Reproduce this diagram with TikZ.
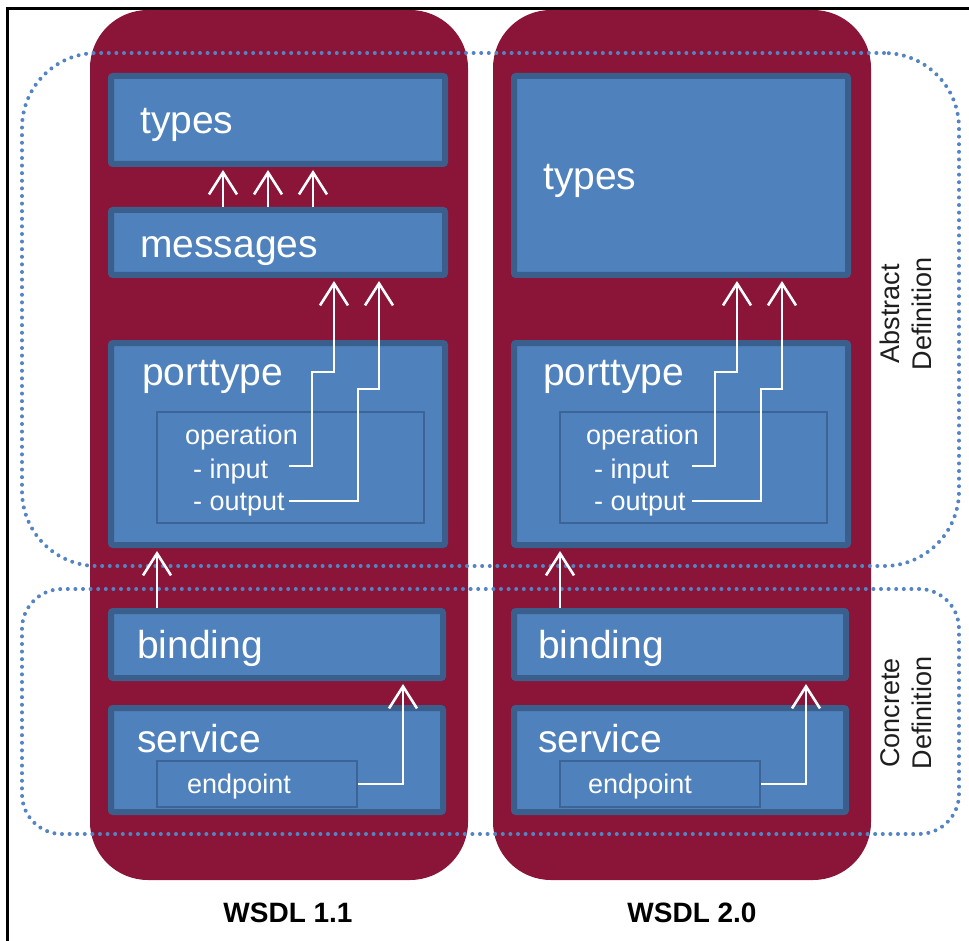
\documentclass[tikz,border=0pt]{standalone}
\usepackage{fontspec}
\setmainfont{Liberation Sans}
\usetikzlibrary{arrows.meta}
\definecolor{colmaroon}{RGB}{138,21,56}
\definecolor{bfill}{RGB}{79,129,189}
\definecolor{bborder}{RGB}{58,95,140}
\definecolor{opborder}{RGB}{60,100,150}
\definecolor{dotc}{RGB}{84,132,196}
\definecolor{sidetext}{RGB}{30,30,30}
\tikzset{
  colbox/.style={fill=colmaroon, draw=none, rounded corners=58pt, inner sep=0pt},
  region/.style={draw=dotc, line width=4pt, line cap=round, dash pattern=on 0pt off 7.6pt, inner sep=0pt},
  bbox/.style={fill=bfill, draw=bborder, line width=6pt, rounded corners=2pt, inner sep=0pt},
  inbox/.style={fill=bfill, draw=opborder, line width=1.5pt, inner sep=0pt},
  bigtxt/.style={text=white, inner sep=0pt, anchor=base west, font=\fontsize{39}{44}\selectfont},
  smalltxt/.style={text=white, inner sep=0pt, anchor=base west, font=\fontsize{27}{30}\selectfont},
  sidetxt/.style={text=sidetext, inner sep=0pt, rotate=90, align=center, font=\fontsize{27}{32}\selectfont},
  captxt/.style={text=black, inner sep=0pt, anchor=base, font=\bfseries\fontsize{28}{32}\selectfont},
  arr/.style={draw=white, line width=2.6pt, -{Straight Barb[length=22pt, width=28pt, line width=2.6pt]}, shorten >=3pt},
  frame/.style={draw=black, line width=3pt}
}
\begin{document}
\begin{tikzpicture}[x=1pt, y=-1pt]
\useasboundingbox (0,0) rectangle (969,941);
% frame (left and top)
\coordinate (fa) at (7.5,941);
\coordinate (fb) at (7.5,8.5);
\coordinate (fc) at (969,8.5);
\draw[frame] (fa) -- (fb) -- (fc);
% columns
\node[colbox, minimum width=378pt, minimum height=870pt] (colL) at (279,445) {};
\node[colbox, minimum width=378pt, minimum height=870pt] (colR) at (682,445) {};
% dotted regions
\node[region, rounded corners=75pt, minimum width=937pt, minimum height=513pt] (abstract) at (490.5,309.5) {};
\node[region, rounded corners=40pt, minimum width=937pt, minimum height=245pt] (concrete) at (490.5,711.5) {};
% left boxes
\node[bbox, minimum width=334pt, minimum height=88pt] (typesL) at (278,120) {};
\node[bbox, minimum width=334pt, minimum height=65pt] (msgL) at (278,242.5) {};
\node[bbox, minimum width=334pt, minimum height=202pt] (portL) at (278,444) {};
\node[inbox, minimum width=267pt, minimum height=111pt] (opL) at (290.5,467.5) {};
\node[bbox, minimum width=332pt, minimum height=67pt] (bindL) at (277,644.5) {};
\node[bbox, minimum width=332pt, minimum height=104pt] (servL) at (277,760) {};
\node[inbox, minimum width=200pt, minimum height=46pt] (endL) at (257,784) {};
% right boxes
\node[bbox, minimum width=334pt, minimum height=199pt] (typesR) at (681,175.5) {};
\node[bbox, minimum width=334pt, minimum height=202pt] (portR) at (681,444) {};
\node[inbox, minimum width=267pt, minimum height=111pt] (opR) at (693.5,467.5) {};
\node[bbox, minimum width=332pt, minimum height=67pt] (bindR) at (680,644.5) {};
\node[bbox, minimum width=332pt, minimum height=104pt] (servR) at (680,760) {};
\node[inbox, minimum width=200pt, minimum height=46pt] (endR) at (660,784) {};
% left texts
\node[bigtxt] (tTypesL) at (140,134) {types};
\node[bigtxt] (tMsgL) at (140,258) {messages};
\node[bigtxt] (tPortL) at (142,385) {porttype};
\node[smalltxt] (tOpL) at (185,444) {operation};
\node[smalltxt] (tInL) at (193,478) {- input};
\node[smalltxt] (tOutL) at (193,510) {- output};
\node[bigtxt] (tBindL) at (137,658) {binding};
\node[bigtxt] (tServL) at (137,752) {service};
\node[smalltxt] (tEndL) at (187,793) {endpoint};
% right texts
\node[bigtxt] (tTypesR) at (543,190) {types};
\node[bigtxt] (tPortR) at (543,385) {porttype};
\node[smalltxt] (tOpR) at (586,444) {operation};
\node[smalltxt] (tInR) at (594,478) {- input};
\node[smalltxt] (tOutR) at (594,510) {- output};
\node[bigtxt] (tBindR) at (538,658) {binding};
\node[bigtxt] (tServR) at (538,752) {service};
\node[smalltxt] (tEndR) at (588,793) {endpoint};
% side and caption texts
\node[sidetxt] (absLbl) at (906,314) {Abstract\\Definition};
\node[sidetxt] (conLbl) at (906,713) {Concrete\\Definition};
\node[captxt] (cap1) at (288,922) {WSDL 1.1};
\node[captxt] (cap2) at (692,922) {WSDL 2.0};
% helper coordinates (left)
\coordinate (a1) at (223,0);
\coordinate (a2) at (268,0);
\coordinate (a3) at (313,0);
\coordinate (inSL) at (289,466);
\coordinate (k1L) at (312,372);
\coordinate (k2L) at (334,372);
\coordinate (outSL) at (289,501);
\coordinate (k3L) at (358,389);
\coordinate (k4L) at (379,389);
\coordinate (bL) at (157,0);
\coordinate (eL) at (403,0);
% helper coordinates (right)
\coordinate (inSR) at (692,466);
\coordinate (k1R) at (715,372);
\coordinate (k2R) at (737,372);
\coordinate (outSR) at (692,501);
\coordinate (k3R) at (761,389);
\coordinate (k4R) at (782,389);
\coordinate (bR) at (560,0);
\coordinate (eR) at (806,0);
% left arrows
\draw[arr] (msgL.north -| a1) -- (typesL.south -| a1);
\draw[arr] (msgL.north -| a2) -- (typesL.south -| a2);
\draw[arr] (msgL.north -| a3) -- (typesL.south -| a3);
\draw[arr] (inSL) -| (k1L) -- (k2L) -- (msgL.south -| k2L);
\draw[arr] (outSL) -| (k3L) -- (k4L) -- (msgL.south -| k4L);
\draw[arr] (bindL.north -| bL) -- (portL.south -| bL);
\draw[arr] (endL.east) -| (bindL.south -| eL);
% right arrows
\draw[arr] (inSR) -| (k1R) -- (k2R) -- (typesR.south -| k2R);
\draw[arr] (outSR) -| (k3R) -- (k4R) -- (typesR.south -| k4R);
\draw[arr] (bindR.north -| bR) -- (portR.south -| bR);
\draw[arr] (endR.east) -| (bindR.south -| eR);
\end{tikzpicture}
\end{document}
